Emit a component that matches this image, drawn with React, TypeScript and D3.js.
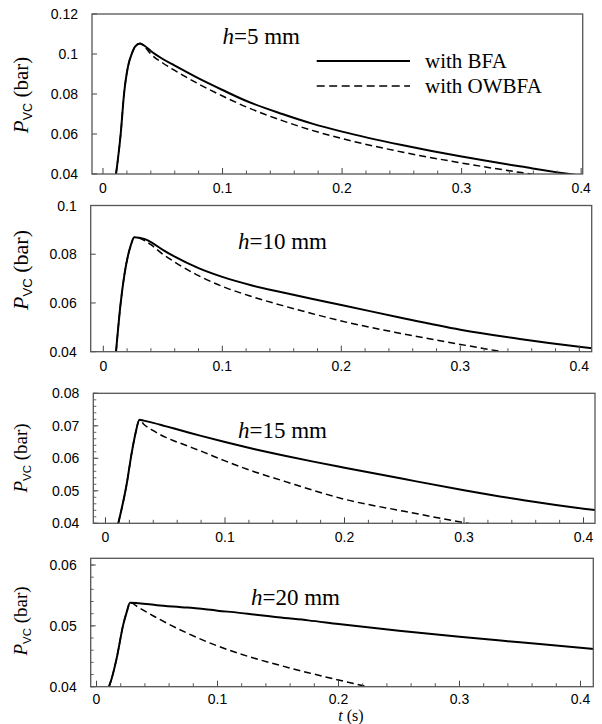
import React from "react";
import * as d3 from "d3";

// ---------- data ----------
const T1 = [0.0109, 0.0148, 0.0176, 0.021, 0.024, 0.027, 0.031, 0.035, 0.04, 0.05, 0.06, 0.08, 0.1, 0.12, 0.15, 0.175, 0.2, 0.25, 0.3, 0.35, 0.4, 0.41];
const BFA1 = [0.04, 0.06, 0.08, 0.094, 0.1, 0.1038, 0.1053, 0.104, 0.1015, 0.0975, 0.0942, 0.0878, 0.082, 0.0765, 0.07, 0.0652, 0.0612, 0.0545, 0.0487, 0.0437, 0.0392, 0.0385];
const OWBFA1 = [0.04, 0.06, 0.08, 0.094, 0.1, 0.1038, 0.1053, 0.1035, 0.1, 0.0955, 0.0918, 0.085, 0.079, 0.0735, 0.0667, 0.0618, 0.0577, 0.051, 0.0455, 0.0407, 0.0365, 0.036];

const T2 = [0.0107, 0.0146, 0.021, 0.023, 0.026, 0.03, 0.035, 0.04, 0.05, 0.06, 0.08, 0.1, 0.125, 0.15, 0.175, 0.2, 0.25, 0.3, 0.35, 0.4, 0.42];
const BFA2 = [0.04, 0.06, 0.08, 0.0835, 0.087, 0.0868, 0.0862, 0.085, 0.0818, 0.079, 0.0743, 0.0707, 0.0672, 0.0644, 0.0617, 0.0592, 0.0539, 0.049, 0.0452, 0.042, 0.0409];
const OWBFA2 = [0.04, 0.06, 0.08, 0.0835, 0.087, 0.0866, 0.0855, 0.0839, 0.08, 0.0768, 0.0712, 0.0668, 0.0626, 0.059, 0.0557, 0.0526, 0.0475, 0.043, 0.0388, 0.035, 0.0335];

const T3 = [0.0107, 0.0179, 0.0219, 0.025, 0.0285, 0.032, 0.04, 0.05, 0.065, 0.08, 0.1, 0.125, 0.15, 0.175, 0.2, 0.25, 0.3, 0.35, 0.4, 0.42];
const BFA3 = [0.04, 0.0524, 0.0616, 0.0675, 0.0719, 0.0716, 0.0709, 0.0699, 0.0684, 0.0669, 0.065, 0.0628, 0.0608, 0.0589, 0.0571, 0.0536, 0.0502, 0.0471, 0.0445, 0.0436];
const OWBFA3 = [0.04, 0.0524, 0.0616, 0.0675, 0.0719, 0.0705, 0.0685, 0.0665, 0.0643, 0.0622, 0.0592, 0.0558, 0.0529, 0.05, 0.0474, 0.0437, 0.0402, 0.037, 0.034, 0.033];

const T4 = [0.0103, 0.0126, 0.0167, 0.0221, 0.025, 0.0277, 0.035, 0.05, 0.075, 0.1, 0.125, 0.15, 0.175, 0.2, 0.25, 0.3, 0.35, 0.4, 0.42];
const BFA4 = [0.04, 0.0414, 0.0447, 0.0502, 0.0523, 0.0538, 0.0537, 0.0534, 0.053, 0.0525, 0.052, 0.0514, 0.0509, 0.0503, 0.0492, 0.0482, 0.0473, 0.0464, 0.046];
const OWBFA4 = [0.04, 0.0414, 0.0447, 0.0502, 0.0523, 0.0538, 0.053, 0.0513, 0.0488, 0.0467, 0.045, 0.0436, 0.0423, 0.0411, 0.0388, 0.0366, 0.0345, 0.0325, 0.0318];

const X_TICKS = [0, 0.1, 0.2, 0.3, 0.4];
const Y_TICKS1 = [0.04, 0.06, 0.08, 0.1, 0.12];
const Y_TICKS2 = [0.04, 0.06, 0.08, 0.1];
const Y_TICKS3 = [0.04, 0.05, 0.06, 0.07, 0.08];
const Y_TICKS4 = [0.04, 0.05, 0.06];
const H_LABELS = ["5", "10", "15", "20"];
const LEGEND = ["with BFA", "with OWBFA"];

// ---------- layout ----------
type Panel = {
  t: number[]; bfa: number[]; ow: number[]; yTicks: number[];
  left: number; right: number; top: number; bottom: number;
  xDom: [number, number]; yDom: [number, number];
  yMinorStep: number | null; h: string;
  hx: number; hy: number; labY: number; labSize: number; xLabOff: number;
};

const PANELS: Panel[] = [
  { t: T1, bfa: BFA1, ow: OWBFA1, yTicks: Y_TICKS1, left: 92, right: 582.7, top: 14, bottom: 174,
    xDom: [-0.0092, 0.4013], yDom: [0.04, 0.12], yMinorStep: null, h: H_LABELS[0], hx: 222.5, hy: 43.5, labY: 95, labSize: 21, xLabOff: 19 },
  { t: T2, bfa: BFA2, ow: OWBFA2, yTicks: Y_TICKS2, left: 90.7, right: 591.7, top: 205.5, bottom: 351.7,
    xDom: [-0.0106, 0.4104], yDom: [0.04, 0.1], yMinorStep: null, h: H_LABELS[1], hx: 238, hy: 248.5, labY: 270, labSize: 22, xLabOff: 19 },
  { t: T3, bfa: BFA3, ow: OWBFA3, yTicks: Y_TICKS3, left: 93.3, right: 595, top: 393.3, bottom: 523.3,
    xDom: [-0.0102, 0.4096], yDom: [0.04, 0.08], yMinorStep: 0.002, h: H_LABELS[2], hx: 238, hy: 437.5, labY: 458, labSize: 19, xLabOff: 19 },
  { t: T4, bfa: BFA4, ow: OWBFA4, yTicks: Y_TICKS4, left: 90.7, right: 593.3, top: 558.3, bottom: 686.7,
    xDom: [-0.0048, 0.4106], yDom: [0.04, 0.0611], yMinorStep: 0.002, h: H_LABELS[3], hx: 251, hy: 604.5, labY: 621, labSize: 19, xLabOff: 17 },
];

const SANS = "'Liberation Sans', Arial, sans-serif";
const SERIF = "'Liberation Serif', 'Times New Roman', serif";

function fmt(v: number) {
  return String(+v.toFixed(3));
}

function PanelView({ p, i }: { p: Panel; i: number }) {
  const x = d3.scaleLinear().domain(p.xDom).range([p.left, p.right]);
  const y = d3.scaleLinear().domain(p.yDom).range([p.bottom, p.top]);
  const line = d3
    .line<number>()
    .x((_, k) => x(p.t[k]))
    .y((d) => y(d))
    .curve(d3.curveMonotoneX);
  const clipId = `clip${i}`;
  const minorX = d3.range(0, 0.4001, 0.02).filter((v) => Math.abs(v * 10 - Math.round(v * 10)) > 1e-6);
  const minorY = p.yMinorStep
    ? d3.range(p.yDom[0], p.yDom[1] + 1e-9, p.yMinorStep)
    : [];
  return (
    <g>
      <defs>
        <clipPath id={clipId}>
          <rect x={p.left} y={p.top} width={p.right - p.left} height={p.bottom - p.top} />
        </clipPath>
      </defs>
      <g clipPath={`url(#${clipId})`} fill="none" stroke="#000">
        <path d={line(p.ow) || ""} strokeWidth={1.5} strokeDasharray="7,4" />
        <path d={line(p.bfa) || ""} strokeWidth={2} />
      </g>
      {X_TICKS.map((v) => (
        <g key={"xt" + v}>
          <line x1={x(v)} x2={x(v)} y1={p.bottom} y2={p.bottom - 6} stroke="#444" strokeWidth={1} />
          <text x={x(v)} y={p.bottom + p.xLabOff} textAnchor="middle" fontFamily={SANS} fontSize={14} fill="#000">
            {fmt(v)}
          </text>
        </g>
      ))}
      {minorX.map((v) => (
        <line key={"xm" + v} x1={x(v)} x2={x(v)} y1={p.bottom} y2={p.bottom - 3.5} stroke="#555" strokeWidth={1} />
      ))}
      {p.yTicks.map((v) => (
        <g key={"yt" + v}>
          <line x1={p.left} x2={p.left + 5} y1={y(v)} y2={y(v)} stroke="#444" strokeWidth={1} />
          <text x={p.left - 14} y={y(v) + 5} textAnchor="end" fontFamily={SANS} fontSize={14} fill="#000">
            {fmt(v)}
          </text>
        </g>
      ))}
      {minorY.map((v, k) => (
        <line key={"ym" + k} x1={p.left} x2={p.left + 3} y1={y(v)} y2={y(v)} stroke="#666" strokeWidth={1} />
      ))}
      <rect x={p.left} y={p.top} width={p.right - p.left} height={p.bottom - p.top} fill="none" stroke="#555" strokeWidth={1.3} />
      <text x={p.hx} y={p.hy} fontFamily={SERIF} fontSize={23} fill="#000">
        <tspan fontStyle="italic">h</tspan>
        <tspan>={p.h} mm</tspan>
      </text>
      <text
        transform={`translate(${27 + (p.labSize - 19) * 0.4},${p.labY}) rotate(-90)`}
        textAnchor="middle"
        fontFamily={SERIF}
        fontSize={p.labSize}
        fill="#000"
      >
        <tspan fontStyle="italic" fontFamily={SERIF}>P</tspan>
        <tspan fontFamily={SANS} fontSize={p.labSize * 0.6} dy={4}>VC</tspan>
        <tspan fontFamily={SERIF} dy={-4}> (bar)</tspan>
      </text>
    </g>
  );
}

export default function App() {
  return (
    <svg
      width={602}
      height={724}
      style={{ position: "absolute", left: 0, top: 0, background: "#fff" }}
    >
      <rect x={0} y={0} width={602} height={724} fill="#fff" />
      {PANELS.map((p, i) => (
        <PanelView key={i} p={p} i={i} />
      ))}
      <line x1={316.7} x2={410} y1={61} y2={61} stroke="#000" strokeWidth={2} />
      <line x1={316.7} x2={410} y1={86} y2={86} stroke="#000" strokeWidth={1.5} strokeDasharray="8,4.5" />
      <text x={425} y={68} fontFamily={SERIF} fontSize={21} fill="#000">{LEGEND[0]}</text>
      <text x={425} y={93} fontFamily={SERIF} fontSize={21} fill="#000">{LEGEND[1]}</text>
      <text x={351} y={720.5} textAnchor="middle" fontFamily={SERIF} fontSize={16} fill="#000">
        <tspan fontStyle="italic">t</tspan>
        <tspan> (s)</tspan>
      </text>
    </svg>
  );
}
